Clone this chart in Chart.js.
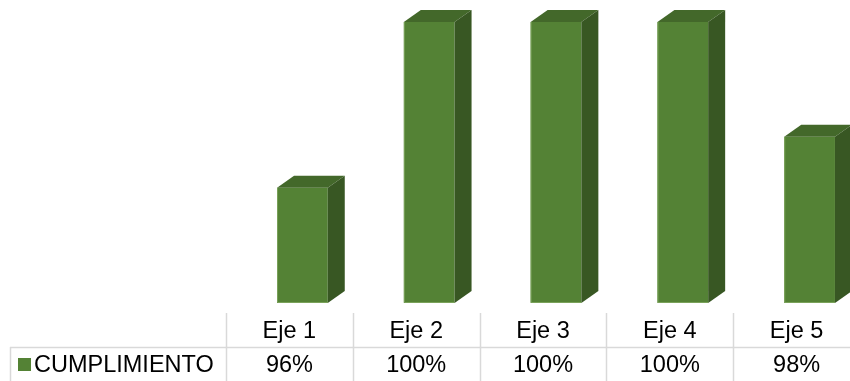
<!DOCTYPE html>
<html>
<head>
<meta charset="utf-8">
<script src="https://cdn.jsdelivr.net/npm/chart.js@4.4.1/dist/chart.umd.min.js"></script>
<style>
  html, body { margin: 0; padding: 0; background: #fff; overflow: hidden; }
  #wrap { width: 850px; height: 381px; overflow: hidden; position: relative; }
  #wrap canvas { position: absolute; left: 0; top: 0; }
</style>
</head>
<body>
<div id="wrap"><canvas id="chart" width="860" height="381"></canvas></div>
<script>
// chart data
const categories = ['Eje 1', 'Eje 2', 'Eje 3', 'Eje 4', 'Eje 5'];
const seriesName = 'CUMPLIMIENTO';
const cumplimiento = [0.9646, 1.00, 1.00, 1.00, 0.9755];
const pctLabels = cumplimiento.map(v => Math.round(v * 100) + '%');

const FRONT = '#548235';
const TOP = '#43682a';
const SIDE = '#385723';
const LINE = '#d9d9d9';
const FONT = '23.5px "Liberation Sans", Arial, sans-serif';

// 3d look: shift the front face and add top + side faces
const depthX = 17, depthY = 12, shiftX = 13;

const bars3d = {
    id: 'bars3d',
    beforeDatasetsDraw(chart) {
        chart.ctx.save();
        chart.ctx.translate(shiftX, 0);
    },
    afterDatasetsDraw(chart) {
        const ctx = chart.ctx;
        const floor = chart.chartArea.bottom;
        chart.getDatasetMeta(0).data.forEach(bar => {
            const x0 = bar.x - bar.width / 2;
            const x1 = bar.x + bar.width / 2;
            const top = bar.y, base = Math.min(bar.base, floor);
            // top face
            ctx.fillStyle = TOP;
            ctx.beginPath();
            ctx.moveTo(x0, top);
            ctx.lineTo(x1, top);
            ctx.lineTo(x1 + depthX, top - depthY);
            ctx.lineTo(x0 + depthX, top - depthY);
            ctx.closePath();
            ctx.fill();
            // side face
            ctx.fillStyle = SIDE;
            ctx.beginPath();
            ctx.moveTo(x1, top);
            ctx.lineTo(x1 + depthX, top - depthY);
            ctx.lineTo(x1 + depthX, base - depthY);
            ctx.lineTo(x1, base);
            ctx.closePath();
            ctx.fill();
            // light edge on the front face
            ctx.strokeStyle = '#7aa25a';
            ctx.lineWidth = 1;
            ctx.beginPath();
            ctx.moveTo(x0 + 0.5, top);
            ctx.lineTo(x0 + 0.5, base - 0.5);
            ctx.lineTo(x1, base - 0.5);
            ctx.stroke();
        });
        ctx.restore();
    }
};

// data table under the plot
const dataTable = {
    id: 'dataTable',
    afterDraw(chart) {
        const ctx = chart.ctx;
        const xs = chart.scales.x;
        const area = chart.chartArea;
        const step = (area.right - area.left) / categories.length;
        const headTop = area.bottom + 10;
        const rowLine = area.bottom + 44;
        const bottom = chart.height;

        ctx.save();
        ctx.strokeStyle = LINE;
        ctx.lineWidth = 1.5;
        ctx.beginPath();
        for (let i = 0; i <= categories.length; i++) {
            const x = Math.round(area.left + i * step) + 0.5;
            ctx.moveTo(x, headTop);
            ctx.lineTo(x, bottom);
        }
        ctx.moveTo(10.5, rowLine);
        ctx.lineTo(10.5, bottom);
        ctx.moveTo(10, rowLine + 0.5);
        ctx.lineTo(area.right, rowLine + 0.5);
        ctx.stroke();

        ctx.fillStyle = '#000';
        ctx.font = FONT;
        ctx.textAlign = 'center';
        ctx.textBaseline = 'middle';
        categories.forEach((c, i) => {
            const cx = xs.getPixelForValue(i);
            ctx.fillText(c, cx, (headTop + rowLine) / 2 + 2);
            ctx.fillText(pctLabels[i], cx, (rowLine + bottom) / 2 + 2);
        });

        // legend key + series name
        ctx.fillStyle = FRONT;
        ctx.fillRect(18, 358, 13, 13);
        ctx.fillStyle = '#000';
        ctx.textAlign = 'left';
        ctx.fillText(seriesName, 34, (rowLine + bottom) / 2 + 2);
        ctx.restore();
    }
};

new Chart(document.getElementById('chart'), {
    type: 'bar',
    data: {
        labels: categories,
        datasets: [{
            label: seriesName,
            data: cumplimiento,
            backgroundColor: FRONT,
            borderWidth: 0,
            barPercentage: 0.4,
            categoryPercentage: 1.0
        }]
    },
    options: {
        responsive: false,
        animation: false,
        layout: { padding: { left: 226, right: 0, top: 22, bottom: 78 } },
        plugins: {
            legend: { display: false },
            tooltip: { enabled: false }
        },
        scales: {
            x: { display: false },
            y: { display: false, min: 0.94, max: 1.0 }
        }
    },
    plugins: [bars3d, dataTable]
});
</script>
</body>
</html>
